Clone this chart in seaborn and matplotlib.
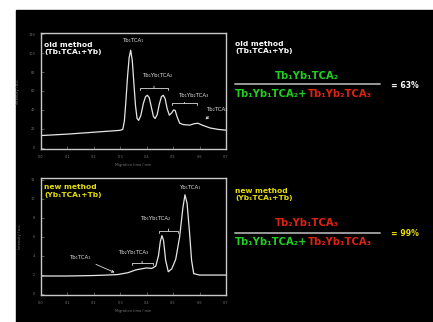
import numpy as np
import pandas as pd
import matplotlib
matplotlib.use('Agg')
import matplotlib.pyplot as plt
import seaborn as sns
from matplotlib.patches import Rectangle
from matplotlib.lines import Line2D

# electropherogram traces
old_time = [0, 0.1, 0.2, 0.3, 0.31, 0.316, 0.322, 0.328, 0.334, 0.340, 0.346, 0.352, 0.358,
            0.364, 0.370, 0.378, 0.388, 0.396, 0.403, 0.410, 0.418, 0.426, 0.432, 0.440,
            0.448, 0.456, 0.463, 0.470, 0.478, 0.486, 0.495, 0.502, 0.508, 0.515, 0.525,
            0.54, 0.563, 0.58, 0.594, 0.61, 0.64, 0.67, 0.7]
old_signal = [13, 14.5, 16.5, 18.5, 19.5, 28, 50, 75, 95, 103, 92, 68, 45,
              31, 29, 34, 47, 54, 55.5, 53, 43, 33, 31, 35,
              46, 54, 55.5, 52, 41, 34.5, 37, 40, 39.5, 33, 26,
              24.5, 24, 25.5, 26, 24, 21, 19.5, 18.7]

new_time = [0, 0.1, 0.2, 0.25, 0.29, 0.33, 0.36, 0.38, 0.40, 0.42, 0.435, 0.445, 0.452,
            0.458, 0.464, 0.472, 0.482, 0.495, 0.51, 0.525, 0.537, 0.545, 0.553, 0.562,
            0.570, 0.578, 0.6, 0.7]
new_signal = [1.85, 1.85, 1.9, 1.95, 2.0, 2.2, 2.5, 2.6, 2.7, 2.65, 2.9, 4.0, 5.5,
              6.1, 5.6, 3.5, 2.3, 2.6, 3.6, 6.0, 9.0, 10.4, 9.5, 6.5,
              3.5, 2.1, 1.95, 1.95]

x_ticks = [0, 0.1, 0.2, 0.3, 0.4, 0.5, 0.6, 0.7]
old_y_ticks = [0, 20, 40, 60, 80, 100, 120]
new_y_ticks = [0, 2, 4, 6, 8, 10, 12]

old_df = pd.DataFrame({'time': old_time, 'signal': old_signal})
new_df = pd.DataFrame({'time': new_time, 'signal': new_signal})

sns.set_theme(style='dark', rc={'axes.facecolor': 'black'})
plt.rcParams['font.family'] = ['DejaVu Sans']

W, H = 433, 322
fig = plt.figure(figsize=(W / 100, H / 100), dpi=100)
fig.patch.set_facecolor('white')
fig.add_artist(Rectangle((16 / W, 0), 1 - 16 / W, 1 - 10 / H, transform=fig.transFigure,
                         color='black', zorder=0))


def px(x, y):
    return x / W, 1 - y / H


def make_axes(top, bottom):
    ax = fig.add_axes([40.7 / W, 1 - bottom / H, (226 - 40.7) / W, (bottom - top) / H])
    ax.set_facecolor('black')
    for s in ax.spines.values():
        s.set_color('#c8c8c8')
        s.set_linewidth(1.0)
        s.set_visible(True)
    ax.tick_params(colors='#777777', labelsize=2.5, direction='in', length=2, width=0.5,
                   bottom=True, left=True, pad=4)
    ax.grid(False)
    return ax


ax1 = make_axes(32.7, 149.3)
sns.lineplot(data=old_df, x='time', y='signal', ax=ax1, color='#e6e6e6', lw=0.9)
ax1.set_xlim(0, 0.7)
ax1.set_ylim(-1.5, 121.5)
ax1.set_xticks(x_ticks)
ax1.set_yticks(old_y_ticks)
ax1.set_xlabel('Migration time / min', fontsize=2.5, color='#777777', labelpad=3)
ax1.set_ylabel('Intensity / a.u.', fontsize=2.5, color='#777777', labelpad=6)

ax2 = make_axes(177.7, 295)
sns.lineplot(data=new_df, x='time', y='signal', ax=ax2, color='#e6e6e6', lw=0.9)
ax2.set_xlim(0, 0.7)
ax2.set_ylim(-0.15, 12.2)
ax2.set_xticks(x_ticks)
ax2.set_yticks(new_y_ticks)
ax2.set_xlabel('Migration time / min', fontsize=2.5, color='#777777', labelpad=3)
ax2.set_ylabel('Intensity / a.u.', fontsize=2.5, color='#777777', labelpad=6)

lab = dict(color='#dddddd', fontsize=4, ha='center', va='center', clip_on=False)
arrow = dict(arrowstyle='->', color='#dddddd', lw=0.6)


def brace(ax, cx, y, width, dy):
    ax.annotate('', xy=(cx, y), xytext=(cx, y + dy), fontsize=4,
                arrowprops=dict(arrowstyle=f'-[, widthB={width}, lengthB=0.3',
                                color='#dddddd', lw=0.6))


# top panel labels
ax1.text(0.349, 113, 'Tb₁TCA₁', **lab)
ax1.text(0.44, 76, 'Tb₁Yb₁TCA₂', **lab)
brace(ax1, 0.428, 63, 2.6, 5)
ax1.text(0.575, 55, 'Tb₁Yb₂TCA₃', **lab)
brace(ax1, 0.543, 47, 2.3, 4)
ax1.annotate('Tb₂TCA₃', xy=(0.615, 28), xytext=(0.665, 41), arrowprops=arrow,
             annotation_clip=False, **lab)
ax1.text(0.012, 112, 'old method\n(Tb₁TCA₁+Yb)', color='white', fontsize=5.4,
         fontweight='bold', ha='left', va='top', linespacing=1.25)

# bottom panel labels
ax2.text(0.564, 11.2, 'Yb₁TCA₁', **lab)
ax2.text(0.432, 7.9, 'Tb₁Yb₁TCA₂', **lab)
brace(ax2, 0.483, 6.6, 1.7, 0.5)
ax2.text(0.349, 4.35, 'Tb₂Yb₁TCA₃', **lab)
brace(ax2, 0.383, 3.2, 1.9, 0.5)
ax2.annotate('Tb₁TCA₁', xy=(0.289, 2.1), xytext=(0.149, 3.8), arrowprops=arrow, **lab)
ax2.text(0.012, 11.5, 'new method\n(Yb₁TCA₁+Tb)', color='#e8e000', fontsize=5.4,
         fontweight='bold', ha='left', va='top', linespacing=1.25)

green = '#22cc22'
red = '#dd2211'
yellow = '#e8e000'
big = dict(fontsize=7.2, fontweight='bold', va='center')

fig.canvas.draw()
renderer = fig.canvas.get_renderer()


def denominator(y, right_text):
    g = fig.text(*px(235, y), 'Tb₁Yb₁TCA₂+', color=green, ha='left', **big)
    ext = g.get_window_extent(renderer)
    x_end = ext.x1 / fig.bbox.width
    fig.text(x_end, 1 - y / H, right_text, color=red, ha='left', **big)


# top right formula
fig.text(*px(235, 41), 'old method\n(Tb₁TCA₁+Yb)', color='white', fontsize=5.4,
         fontweight='bold', ha='left', va='top', linespacing=1.25)
fig.text(*px(307, 76), 'Tb₁Yb₁TCA₂', color=green, ha='center', **big)
fig.add_artist(Line2D([235 / W, 380 / W], [1 - 84 / H] * 2, transform=fig.transFigure,
                      color='#9a9a9a', lw=1.4))
denominator(94, 'Tb₁Yb₂TCA₃')
fig.text(*px(391, 85), '= 63%', color='white', ha='left', fontsize=5.6,
         fontweight='bold', va='center')

# bottom right formula
fig.text(*px(235, 188), 'new method\n(Yb₁TCA₁+Tb)', color=yellow, fontsize=5.4,
         fontweight='bold', ha='left', va='top', linespacing=1.25)
fig.text(*px(307, 223), 'Tb₂Yb₁TCA₃', color=red, ha='center', **big)
fig.add_artist(Line2D([235 / W, 380 / W], [1 - 233 / H] * 2, transform=fig.transFigure,
                      color='#9a9a9a', lw=1.4))
denominator(242, 'Tb₂Yb₁TCA₃')
fig.text(*px(391, 233), '= 99%', color=yellow, ha='left', fontsize=5.6,
         fontweight='bold', va='center')

fig.savefig('out.png', dpi=100, facecolor='white')
